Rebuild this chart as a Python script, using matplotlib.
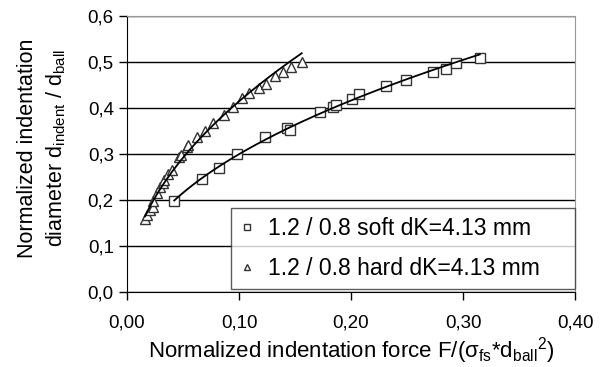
import numpy as np
import matplotlib
matplotlib.use('Agg')
import matplotlib.pyplot as plt
from matplotlib.ticker import FuncFormatter

plt.rcParams['font.family'] = ['Liberation Sans', 'DejaVu Sans']
plt.rcParams['mathtext.fontset'] = 'custom'
plt.rcParams['mathtext.rm'] = 'Liberation Sans'
plt.rcParams['mathtext.it'] = 'Liberation Sans'

# soft series (squares)
soft_x = [0.0422, 0.0667, 0.0819, 0.0985, 0.1235, 0.1426, 0.1455, 0.172, 0.1836,
          0.187, 0.201, 0.2075, 0.231, 0.249, 0.273, 0.2845, 0.2937, 0.315]
soft_y = [0.197, 0.246, 0.269, 0.301, 0.337, 0.357, 0.353, 0.391, 0.402,
          0.407, 0.419, 0.431, 0.448, 0.461, 0.478, 0.4855, 0.498, 0.508]

# hard series (triangles)
hard_x = [0.0161, 0.0181, 0.0205, 0.0229, 0.0235, 0.0265, 0.0295, 0.0319, 0.0333,
          0.0369, 0.0399, 0.0467, 0.048, 0.0533, 0.0548, 0.0622, 0.0696, 0.077,
          0.0869, 0.0943, 0.103, 0.109, 0.118, 0.124, 0.132, 0.1396, 0.1464, 0.156]
hard_y = [0.1587, 0.1667, 0.178, 0.1855, 0.197, 0.2145, 0.2276, 0.2376, 0.2435,
          0.2565, 0.2645, 0.293, 0.297, 0.315, 0.319, 0.336, 0.351, 0.367,
          0.3855, 0.4015, 0.421, 0.432, 0.443, 0.453, 0.470, 0.479, 0.489, 0.499]

labels = ['1.2 / 0.8 soft dK=4.13 mm', '1.2 / 0.8 hard dK=4.13 mm']


def power_fit(x, y):
    # power trendline y = a*x^b, fitted in log space
    b, loga = np.polyfit(np.log(x), np.log(y), 1)
    xs = np.linspace(min(x), max(x), 200)
    return xs, np.exp(loga) * xs ** b


fig = plt.figure(figsize=(6.03, 3.67), dpi=100)
ax = fig.add_axes([127/603, 75/367, 448/603, 276/367])

edge = '#333333'
ax.plot(soft_x, soft_y, 's', ms=7, mfc='white', mec=edge, mew=1, label=labels[0], zorder=3)
ax.plot(hard_x, hard_y, '^', ms=7, mfc='white', mec=edge, mew=1, label=labels[1], zorder=3)

xs, ys = power_fit(soft_x, soft_y)
ax.plot(xs, ys, color='black', lw=1.3, zorder=4)
xs, ys = power_fit(hard_x, hard_y)
ax.plot(xs, ys, color='black', lw=1.3, zorder=4)

ax.set_xlim(0, 0.4)
ax.set_ylim(0, 0.6)
ax.set_xticks(np.arange(0, 0.41, 0.1))
ax.set_yticks(np.arange(0, 0.61, 0.1))
ax.xaxis.set_major_formatter(FuncFormatter(lambda v, p: ('%.2f' % v).replace('.', ',')))
ax.yaxis.set_major_formatter(FuncFormatter(lambda v, p: ('%.1f' % v).replace('.', ',')))
ax.tick_params(direction='out', length=6, width=1, labelsize=13.5, color='black')
ax.tick_params(axis='x', pad=10)
ax.yaxis.grid(True, color='black', lw=1)
ax.set_axisbelow(True)
for s in ['top', 'right']:
    ax.spines[s].set_color('#999999')
for s in ['left', 'bottom']:
    ax.spines[s].set_color('black')

leg = ax.legend(loc='lower left', bbox_to_anchor=(0.232, 0.01, 0.768, 0.296), mode='expand',
                borderaxespad=0, fontsize=16.5, markerscale=0.6, frameon=True, fancybox=False,
                handlelength=0.6, handletextpad=0.6, borderpad=0.4, labelspacing=0.75)
leg.get_frame().set_edgecolor('#333333')
leg.get_frame().set_linewidth(1)

fig.text(0.583, 0.045, 'Normalized indentation force F/(σ$_{\\mathrm{fs}}$*d$_{\\mathrm{ball}}$$^2$)',
         ha='center', va='center', fontsize=16)
fig.text(28/603, 0.597, 'Normalized indentation', rotation=90, ha='center', va='center', fontsize=15.5)
fig.text(56/603, 0.597, 'diameter d$_{\\mathrm{indent}}$ / d$_{\\mathrm{ball}}$', rotation=90,
         ha='center', va='center', fontsize=15.5)

fig.savefig('out.png', dpi=100)
